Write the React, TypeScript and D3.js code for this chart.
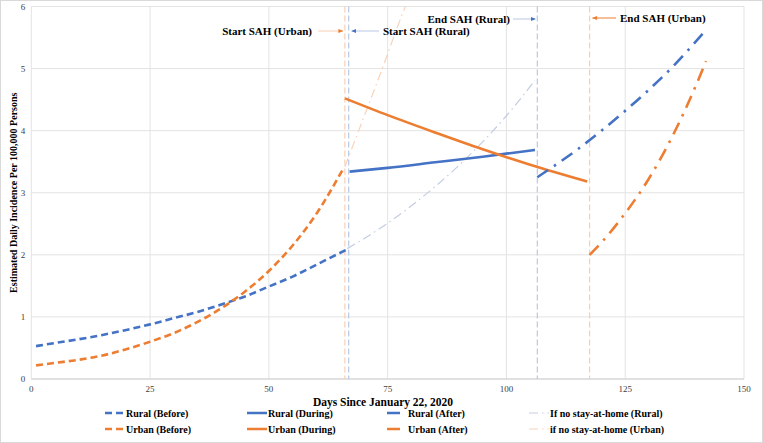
import React, { useEffect } from 'react';
import * as d3 from 'd3';

// Series: [day, estimated daily incidence per 100,000]
const ruralBefore: [number, number][] = [
  [1, 0.53], [5, 0.58], [10, 0.64], [15, 0.71], [20, 0.79], [25, 0.88], [30, 0.98],
  [35, 1.08], [40, 1.2], [45, 1.33], [50, 1.49], [55, 1.65], [60, 1.84], [66.5, 2.09],
];
const urbanBefore: [number, number][] = [
  [1, 0.22], [5, 0.26], [10, 0.31], [15, 0.38], [20, 0.48], [25, 0.6], [30, 0.74],
  [35, 0.92], [40, 1.14], [45, 1.41], [50, 1.74], [55, 2.15], [60, 2.66], [65.6, 3.38],
];
const ruralDuring: [number, number][] = [
  [67, 3.34], [75, 3.4], [85, 3.49], [95, 3.58], [106, 3.69],
];
const urbanDuring: [number, number][] = [
  [66, 4.52], [75, 4.25], [85, 3.97], [95, 3.7], [105, 3.45], [117, 3.18],
];
const ruralAfter: [number, number][] = [
  [106.5, 3.25], [110, 3.43], [115, 3.7], [120, 4.0], [125, 4.32], [130, 4.66], [135, 5.03], [141.5, 5.58],
];
const urbanAfter: [number, number][] = [
  [117.5, 2.0], [120, 2.2], [125, 2.67], [130, 3.23], [135, 3.92], [140, 4.75], [142, 5.12],
];
const noSahRural: [number, number][] = [
  [66.5, 2.1], [70, 2.26], [75, 2.51], [80, 2.79], [85, 3.1], [90, 3.44], [95, 3.82], [100, 4.24], [106, 4.81],
];
const noSahUrban: [number, number][] = [
  [66, 3.42], [68, 3.82], [70, 4.22], [72, 4.62], [74, 5.03], [76, 5.45], [78, 5.86], [79, 6.05],
];

const xTicks = [0, 25, 50, 75, 100, 125, 150];
const yTicks = [0, 1, 2, 3, 4, 5, 6];

// stay-at-home dates (days since Jan 22)
const startUrban = 66;
const startRural = 66.8;
const endRural = 106.5;
const endUrban = 117.5;

const BLUE = '#4472C4';
const ORANGE = '#ED7D31';
const LIGHT_BLUE = '#c3cde2';
const LIGHT_ORANGE = '#f8d3ba';
const VLINE_BLUE = '#b8c8e8';
const VLINE_ORANGE = '#f8cfb3';

const W = 763;
const H = 443;
const margin = { top: 6.5, right: 19, bottom: 64, left: 31.3 };
const FONT = 'Liberation Serif, serif';

const DASH_BEFORE = '7,4';
const DASH_AFTER = '13,7,2.5,7';
const DASH_NOSAH = '9,4,1.5,4';

const legendItems = [
  { label: 'Rural (Before)', color: BLUE, dash: DASH_BEFORE, w: 2.5, x: 105, row: 0 },
  { label: 'Urban (Before)', color: ORANGE, dash: DASH_BEFORE, w: 2.5, x: 105, row: 1 },
  { label: 'Rural (During)', color: BLUE, dash: '', w: 2.5, x: 247, row: 0 },
  { label: 'Urban (During)', color: ORANGE, dash: '', w: 2.5, x: 247, row: 1 },
  { label: 'Rural (After)', color: BLUE, dash: DASH_AFTER, w: 2.5, x: 387, row: 0 },
  { label: 'Urban (After)', color: ORANGE, dash: DASH_AFTER, w: 2.5, x: 387, row: 1 },
  { label: 'If no stay-at-home (Rural)', color: LIGHT_BLUE, dash: DASH_NOSAH, w: 1.2, x: 529, row: 0 },
  { label: 'if no stay-at-home (Urban)', color: LIGHT_ORANGE, dash: DASH_NOSAH, w: 1.2, x: 529, row: 1 },
];

export default function App() {
  useEffect(() => {
    document.body.style.margin = '0';
  }, []);

  const x = d3.scaleLinear().domain([0, 150]).range([margin.left, W - margin.right]);
  const y = d3.scaleLinear().domain([0, 6]).range([H - margin.bottom, margin.top]);

  const line = d3
    .line<[number, number]>()
    .x(d => x(d[0]))
    .y(d => y(d[1]))
    .curve(d3.curveMonotoneX);

  const series = [
    { data: noSahRural, color: LIGHT_BLUE, dash: DASH_NOSAH, w: 1.2 },
    { data: noSahUrban, color: LIGHT_ORANGE, dash: DASH_NOSAH, w: 1.2 },
    { data: ruralBefore, color: BLUE, dash: DASH_BEFORE, w: 2.6 },
    { data: urbanBefore, color: ORANGE, dash: DASH_BEFORE, w: 2.6 },
    { data: ruralDuring, color: BLUE, dash: '', w: 2.6 },
    { data: urbanDuring, color: ORANGE, dash: '', w: 2.6 },
    { data: ruralAfter, color: BLUE, dash: DASH_AFTER, w: 2.6 },
    { data: urbanAfter, color: ORANGE, dash: DASH_AFTER, w: 2.6 },
  ];

  const vlines = [
    { d: startUrban, color: VLINE_ORANGE },
    { d: startRural, color: VLINE_BLUE },
    { d: endRural, color: VLINE_BLUE },
    { d: endUrban, color: VLINE_ORANGE },
  ];

  const [x0, x1] = x.range();
  const [yb, yt] = y.range();

  return (
    <svg width={W} height={H} fontFamily={FONT} style={{ display: 'block' }}>
      <defs>
        <clipPath id="plot">
          <rect x={x0} y={yt} width={x1 - x0} height={yb - yt} />
        </clipPath>
        <marker id="arrBlue" viewBox="0 0 10 10" refX="9" refY="5" markerWidth="5" markerHeight="5" orient="auto">
          <path d="M0,1 L10,5 L0,9 z" fill={BLUE} />
        </marker>
        <marker id="arrOrange" viewBox="0 0 10 10" refX="9" refY="5" markerWidth="5" markerHeight="5" orient="auto">
          <path d="M0,1 L10,5 L0,9 z" fill={ORANGE} />
        </marker>
      </defs>
      <rect x={0.5} y={0.5} width={W - 1} height={H - 1} fill="#fff" stroke="#d9d9d9" />

      {/* grid */}
      {yTicks.map(t => (
        <line key={'gy' + t} x1={x0} x2={x1} y1={y(t)} y2={y(t)} stroke="#e3e3e3" strokeWidth={1} />
      ))}
      {xTicks.map(t => (
        <line key={'gx' + t} x1={x(t)} x2={x(t)} y1={yt} y2={yb} stroke="#e3e3e3" strokeWidth={1} />
      ))}
      <line x1={x0} x2={x1} y1={yb} y2={yb} stroke="#d0d0d0" />

      {/* tick labels */}
      {yTicks.map(t => (
        <text key={'ty' + t} x={x0 - 6} y={y(t)} dy="0.35em" textAnchor="end" fontSize={9} fill="#404040">
          {t}
        </text>
      ))}
      {xTicks.map(t => (
        <text key={'tx' + t} x={x(t)} y={yb + 13} textAnchor="middle" fontSize={9} fill="#404040">
          {t}
        </text>
      ))}

      {/* stay-at-home markers */}
      {vlines.map((v, i) => (
        <line key={'v' + i} x1={x(v.d)} x2={x(v.d)} y1={yt} y2={yb} stroke={v.color} strokeWidth={1.2} strokeDasharray="6,3" />
      ))}

      {/* series */}
      <g clipPath="url(#plot)">
        {series.map((s, i) => (
          <path
            key={'s' + i}
            d={line(s.data) || ''}
            fill="none"
            stroke={s.color}
            strokeWidth={s.w}
            strokeDasharray={s.dash || undefined}
          />
        ))}
      </g>

      {/* annotations */}
      <g fontWeight="bold" fontSize={11} fill="#000">
        <text x={312} y={31} dy="0.35em" textAnchor="end">Start SAH (Urban)</text>
        <line x1={318} x2={x(startUrban) - 2} y1={31} y2={31} stroke={VLINE_ORANGE} strokeWidth={1} markerEnd="url(#arrOrange)" />
        <text x={383} y={31} dy="0.35em">Start SAH (Rural)</text>
        <line x1={379} x2={x(startRural) + 3} y1={31} y2={31} stroke={VLINE_BLUE} strokeWidth={1} markerEnd="url(#arrBlue)" />
        <text x={510} y={19} dy="0.35em" textAnchor="end">End SAH (Rural)</text>
        <line x1={513} x2={x(endRural) - 2} y1={19} y2={19} stroke={VLINE_BLUE} strokeWidth={1} markerEnd="url(#arrBlue)" />
        <text x={620} y={18} dy="0.35em">End SAH (Urban)</text>
        <line x1={616} x2={x(endUrban) + 3} y1={18} y2={18} stroke={ORANGE} strokeWidth={1} markerEnd="url(#arrOrange)" />
      </g>

      {/* axis titles */}
      <text
        transform={`translate(13,${(yb + yt) / 2}) rotate(-90)`}
        textAnchor="middle"
        dy="0.35em"
        fontWeight="bold"
        fontSize={10}
      >
        Estimated Daily Incidence Per 100,000 Persons
      </text>
      <text x={383} y={402} dy="0.35em" textAnchor="middle" fontWeight="bold" fontSize={11.5}>
        Days Since January 22, 2020
      </text>

      {/* legend */}
      {legendItems.map((it, i) => {
        const cy = it.row === 0 ? 413 : 429;
        return (
          <g key={'l' + i}>
            <line
              x1={it.x}
              x2={it.x + 20}
              y1={cy}
              y2={cy}
              stroke={it.color}
              strokeWidth={it.w}
              strokeDasharray={it.dash || undefined}
            />
            <text x={it.x + 21} y={cy} dy="0.35em" fontWeight="bold" fontSize={10} fill="#000">
              {it.label}
            </text>
          </g>
        );
      })}
    </svg>
  );
}
